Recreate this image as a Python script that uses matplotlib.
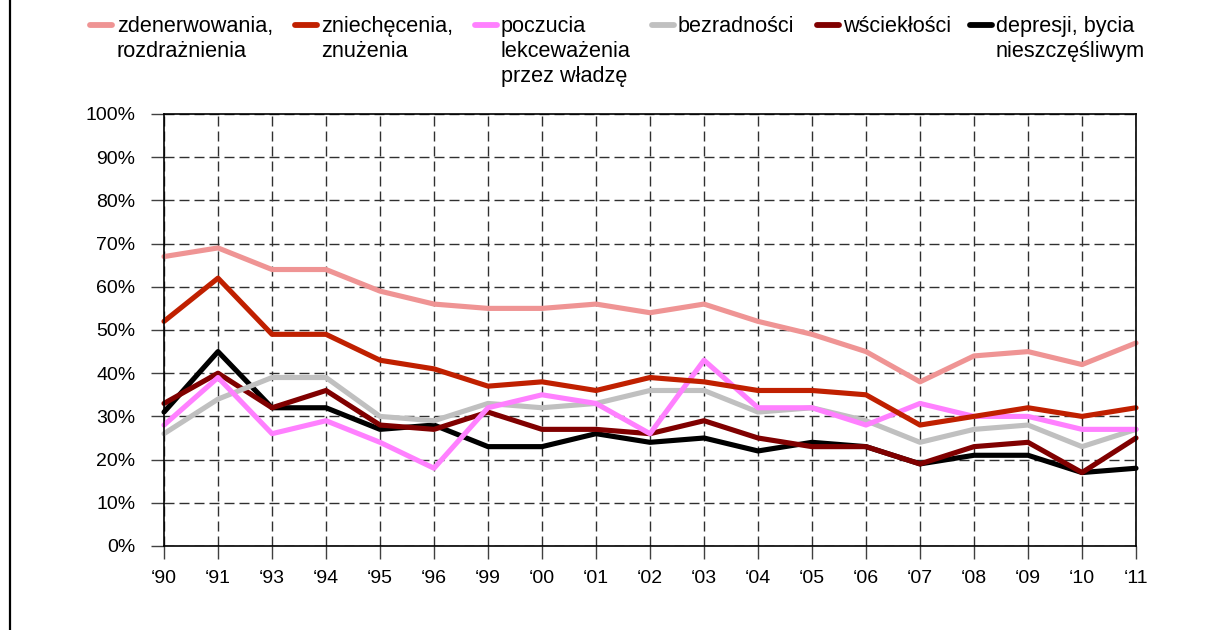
import matplotlib
matplotlib.use("Agg")
import matplotlib.pyplot as plt
from matplotlib.lines import Line2D

plt.rcParams['font.family'] = ['Liberation Sans', 'DejaVu Sans']

years = ["‘90", "‘91", "‘93", "‘94", "‘95", "‘96", "‘99", "‘00", "‘01", "‘02",
         "‘03", "‘04", "‘05", "‘06", "‘07", "‘08", "‘09", "‘10", "‘11"]

zdenerwowania = [67, 69, 64, 64, 59, 56, 55, 55, 56, 54, 56, 52, 49, 45, 38, 44, 45, 42, 47]
zniechecenia = [52, 62, 49, 49, 43, 41, 37, 38, 36, 39, 38, 36, 36, 35, 28, 30, 32, 30, 32]
lekcewazenia = [28, 39, 26, 29, 24, 18, 32, 35, 33, 26, 43, 32, 32, 28, 33, 30, 30, 27, 27]
bezradnosci = [26, 34, 39, 39, 30, 29, 33, 32, 33, 36, 36, 31, 32, 29, 24, 27, 28, 23, 27]
wscieklosci = [33, 40, 32, 36, 28, 27, 31, 27, 27, 26, 29, 25, 23, 23, 19, 23, 24, 17, 25]
depresji = [31, 45, 32, 32, 27, 28, 23, 23, 26, 24, 25, 22, 24, 23, 19, 21, 21, 17, 18]

labels = [["zdenerwowania,", "rozdrażnienia"],
          ["zniechęcenia,", "znużenia"],
          ["poczucia", "lekceważenia", "przez władzę"],
          ["bezradności"],
          ["wściekłości"],
          ["depresji, bycia", "nieszczęśliwym"]]
series = [zdenerwowania, zniechecenia, lekcewazenia, bezradnosci, wscieklosci, depresji]
colors = ["#EF9494", "#C02000", "#FF80FF", "#C0C0C0", "#800000", "#000000"]

W, H = 1207, 630
FS = 14.0
LFS = 15.6
fig = plt.figure(figsize=(W / 100, H / 100), dpi=100)
ax = fig.add_axes([164 / W, 1 - 546 / H, 972 / W, 432 / H])

x = list(range(len(years)))
n = len(series)
for i, (vals, c) in enumerate(zip(series, colors)):
    ax.plot(x, vals, color=c, lw=3.7, solid_joinstyle='round',
            solid_capstyle='round', zorder=10 + n - i, clip_on=False)

ax.set_xlim(0, len(years) - 1)
ax.set_ylim(0, 100)
ax.set_yticks(range(0, 101, 10))
ax.set_yticklabels([f"{v}%" for v in range(0, 101, 10)])
ax.set_xticks(x)
ax.set_xticklabels(years)
ax.grid(True, color='#303030', lw=1.0, linestyle=(0, (7.2, 3.6)))
ax.set_axisbelow(True)
for s in ax.spines.values():
    s.set_color('black')
    s.set_linewidth(1.2)
    s.set_zorder(30)
ax.tick_params(axis='both', direction='out', length=9.5, width=1.0,
               color='#404040', labelsize=FS, labelcolor='black')
ax.tick_params(axis='y', pad=11)
ax.tick_params(axis='x', pad=8)

# legend (manual, in figure pixel coordinates)
handle_x = [90, 295, 475, 652, 817, 970]
text_x = [117, 321, 501, 678, 843, 996]
for hx, tx, lab, c in zip(handle_x, text_x, labels, colors):
    fig.add_artist(Line2D([hx / W, (hx + 22) / W], [1 - 25 / H, 1 - 25 / H],
                          transform=fig.transFigure, color=c, lw=4.2,
                          solid_capstyle='round'))
    for k, line in enumerate(lab):
        fig.text(tx / W, 1 - (32 + 25 * k) / H, line, fontsize=LFS,
                 ha='left', va='baseline', color='black')

# left border line
fig.add_artist(Line2D([10 / W, 10 / W], [0, 1], transform=fig.transFigure,
                      color='black', lw=1.6))

fig.savefig("out.png", dpi=100)
